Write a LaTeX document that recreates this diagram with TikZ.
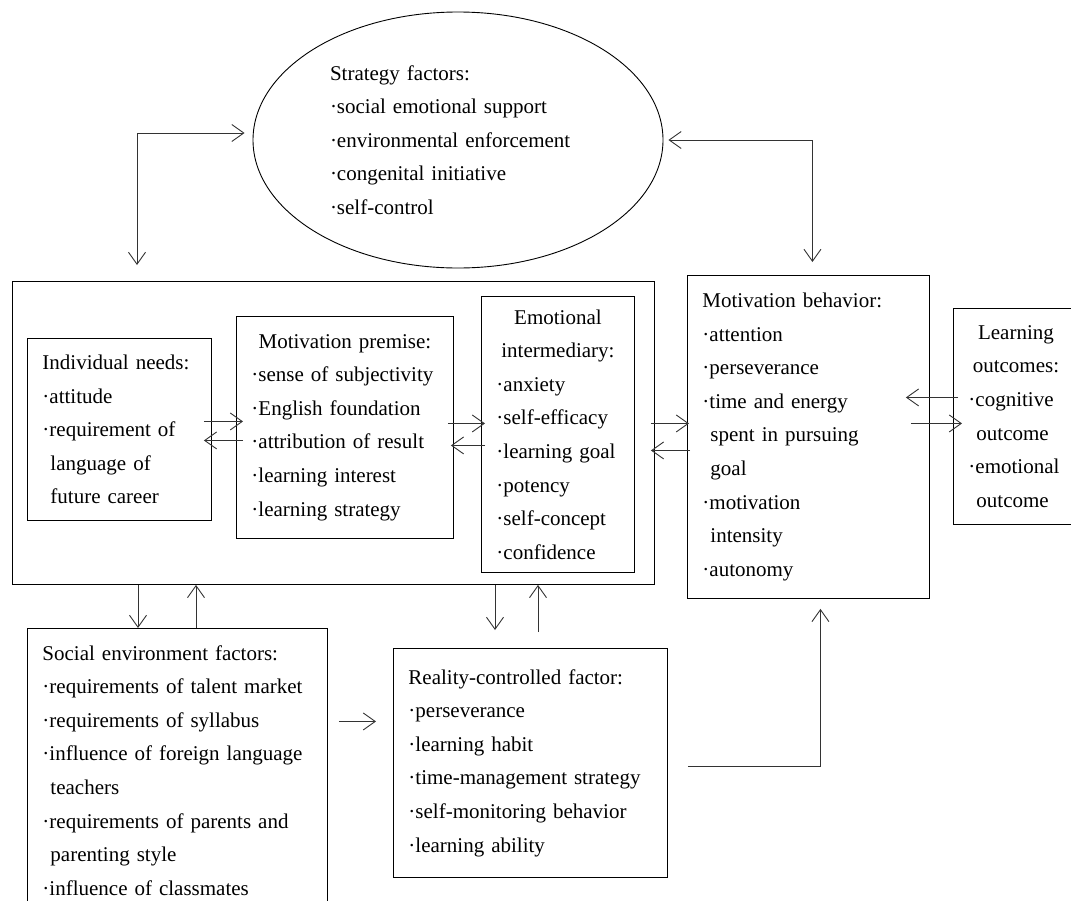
\documentclass[tikz,border=0pt]{standalone}
\usepackage{fontspec}
\setmainfont{Liberation Serif}
\usetikzlibrary{calc,arrows.meta,shapes.geometric}

\newcommand{\boxtitle}[1]{\makebox[\linewidth]{#1}}
\newcommand{\cont}{\hspace*{8pt}}

\tikzset{
	box/.style={draw, rectangle, anchor=north west, align=left, inner xsep=15pt, inner ysep=4pt, line width=0.9pt},
	ar/.style={line width=0.9pt, black!80},
	>={Straight Barb[length=12pt,width=17pt,line width=0.9pt]}
}

\begin{document}
\begin{tikzpicture}[x=1pt, y=-1pt, font=\fontsize{21}{33.6}\selectfont]

	\useasboundingbox (0,0) rectangle (1071,900);
	\clip (0,0) rectangle (1071,900);

	% strategy factors
	\node[draw, ellipse, line width=0.9pt, minimum width=410pt, minimum height=256pt, text width=256pt, align=left] (strat) at (458,140)
		{Strategy factors:\\ ·social emotional support\\ ·environmental enforcement\\ ·congenital initiative\\ ·self-control};

	% outer frame
	\node[box, minimum width=642pt, minimum height=303pt] (core) at (12,281) {};

	% inner boxes
	\node[box, text width=154pt, minimum height=182pt] (needs) at (27,338)
		{Individual needs:\\ ·attitude\\ ·requirement of\\ \cont language of\\ \cont future career};
	\node[box, text width=187pt, minimum height=222pt] (premise) at (236,316)
		{\boxtitle{Motivation premise:}\\ ·sense of subjectivity\\ ·English foundation\\ ·attribution of result\\ ·learning interest\\ ·learning strategy};
	\node[box, text width=123pt, minimum height=276pt] (emot) at (481,296)
		{\boxtitle{Emotional}\\ \boxtitle{intermediary:}\\ ·anxiety\\ ·self-efficacy\\ ·learning goal\\ ·potency\\ ·self-concept\\ ·confidence};

	% motivation behavior and outcomes
	\node[box, text width=212pt, minimum height=323pt] (behav) at (687,275)
		{Motivation behavior:\\ ·attention\\ ·perseverance\\ ·time and energy\\ \cont spent in pursuing\\ \cont goal\\ ·motivation\\ \cont intensity\\ ·autonomy};
	\node[box, text width=95pt, minimum height=216pt] (learn) at (953,308)
		{\boxtitle{Learning}\\ \boxtitle{outcomes:}\\ ·cognitive\\ \cont outcome\\ ·emotional\\ \cont outcome};

	% lower boxes
	\node[box, text width=270pt, minimum height=284pt] (social) at (27,628)
		{Social environment factors:\\ ·requirements of talent market\\ ·requirements of syllabus\\ ·influence of foreign language\\ \cont teachers\\ ·requirements of parents and\\ \cont parenting style\\ ·influence of classmates};
	\node[box, text width=244pt, minimum height=229pt] (reality) at (393,648)
		{Reality-controlled factor:\\ ·perseverance\\ ·learning habit\\ ·time-management strategy\\ ·self-monitoring behavior\\ ·learning ability};

	% links to the strategy factors
	\draw[ar, <->] ([xshift=-8pt, yshift=7pt]strat.west) -| (137,265);
	\draw[ar, <->] ([xshift=5pt]strat.east) -| ([xshift=4pt, yshift=13pt]behav.north);

	% arrows inside the frame
	\draw[ar, ->] ($(needs.east)+(-8,-8)$) -- ($(premise.west)+(7,-6)$);
	\draw[ar, ->] ($(premise.west)+(7,13)$) -- ($(needs.east)+(-8,11)$);
	\draw[ar, ->] ($(premise.east)+(-6,-4)$) -- ($(emot.west)+(4,-11)$);
	\draw[ar, ->] ($(emot.west)+(4,11)$) -- ($(premise.east)+(-3,18)$);

	% frame and behavior
	\draw[ar, ->] ($(core.east)+(-4,-9.5)$) -- ($(behav.west)+(2,-13.5)$);
	\draw[ar, ->] ($(behav.west)+(3,13.5)$) -- ($(core.east)+(-4,17.5)$);

	% behavior and outcomes
	\draw[ar, ->] ($(learn.west)+(5,-19)$) -- ($(behav.east)+(-24,-39.5)$);
	\draw[ar, ->] ($(behav.east)+(-19,-13.5)$) -- ($(learn.west)+(9,7)$);

	% frame and lower boxes
	\draw[ar, ->] ($(core.south west)+(126,0)$) -- ($(social.north west)+(111,0)$);
	\draw[ar, ->] ($(social.north west)+(169,0)$) -- ($(core.south west)+(184,0)$);
	\draw[ar, ->] ($(core.south west)+(483,0)$) -- ($(reality.north west)+(102,-18)$);
	\draw[ar, ->] ($(reality.north west)+(145,-16)$) -- ($(core.south west)+(526,0)$);

	% lower boxes onward
	\draw[ar, ->] ($(social.east)+(11,-49)$) -- ($(reality.west)+(-17,-41.5)$);
	\draw[ar, ->] ($(reality.east)+(20,3)$) -| ($(behav.south)+(12,10)$);

\end{tikzpicture}
\end{document}
